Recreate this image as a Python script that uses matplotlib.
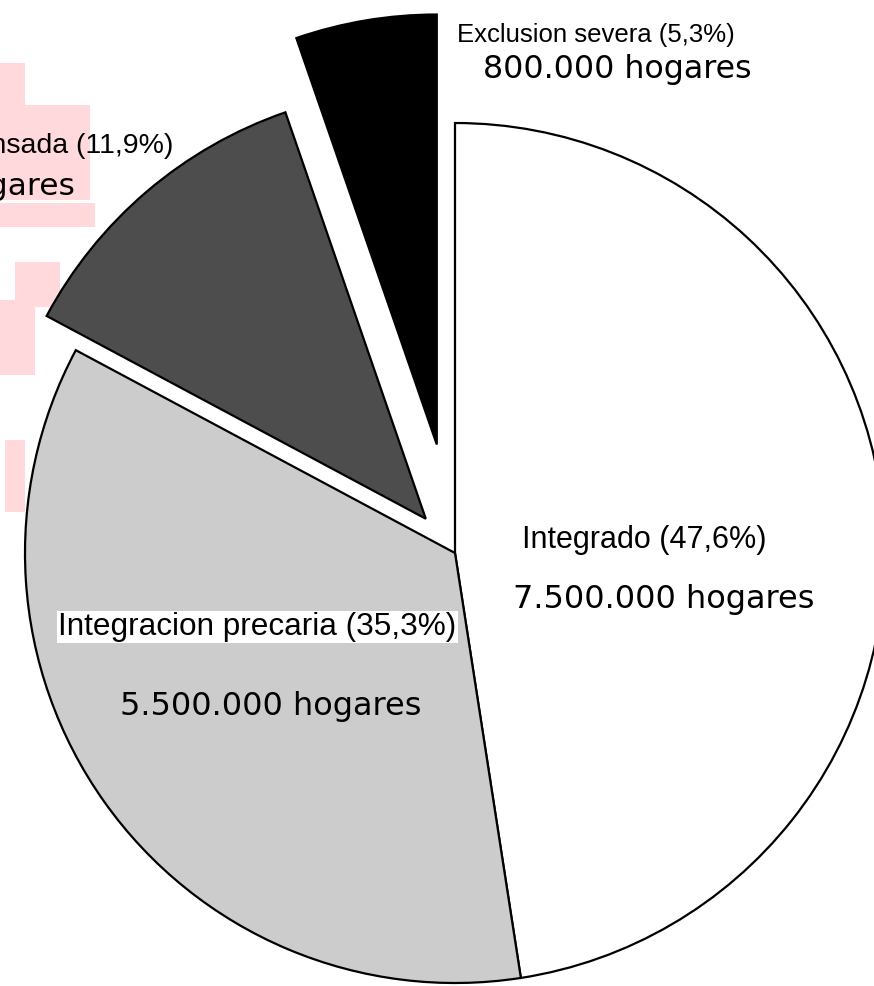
"""Pie chart: hogares por nivel de integracion"""

import matplotlib
matplotlib.use('Agg')
import matplotlib.pyplot as plt
from matplotlib.patches import Rectangle

labels = ['Integrado', 'Integracion precaria', 'Exclusion compensada', 'Exclusion severa']
shares = [47.6, 35.3, 11.9, 5.3]
hogares = ['7.500.000', '5.500.000', '1.800.000', '800.000']
colors = ['#FFFFFF', '#CCCCCC', '#4D4D4D', '#000000']

W, H = 874, 986
fig = plt.figure(figsize=(W / 100.0, H / 100.0), dpi=100)

# faint watermark blocks on the left (pixel coords, from top)
pink = '#FFD9DB'
for (x, y, w, h) in [(0, 63, 25, 45), (0, 105, 90, 95), (0, 203, 95, 24),
                     (15, 262, 45, 45), (0, 300, 35, 75), (5, 440, 20, 72)]:
    fig.add_artist(Rectangle((x / W, 1 - (y + h) / H), w / W, h / H,
                             transform=fig.transFigure, color=pink, lw=0, zorder=0))

ax = fig.add_axes([0, 0, 1, 1])
ax.patch.set_alpha(0)

cx, cy, r = 455, H - 553, 430
explode = [0, 0, 45, 110]     # pie explode is in data units here
ax.pie(shares, colors=colors, explode=explode, startangle=90, counterclock=False,
       center=(cx, cy), radius=r, frame=True,
       wedgeprops=dict(edgecolor='black', linewidth=1.6))
ax.set_xlim(0, W)
ax.set_ylim(0, H)
ax.set_aspect('equal')
ax.axis('off')

def pct(i):
    return labels[i] + ' (' + ('%.1f' % shares[i]).replace('.', ',') + '%)'

arial = 'Liberation Sans'
verd = 'DejaVu Sans'

# Integrado
ax.text(522, H - 548, pct(0), ha='left', va='baseline', family=arial, fontsize=22)
ax.text(513, H - 608, hogares[0] + ' hogares', ha='left', va='baseline', family=verd, fontsize=23)
# Integracion precaria
ax.text(58, H - 635, pct(1), ha='left', va='baseline', family=arial, fontsize=22.7,
        bbox=dict(facecolor='white', edgecolor='none', pad=1.0))
ax.text(120, H - 715, hogares[1] + ' hogares', ha='left', va='baseline', family=verd, fontsize=23)
# Exclusion compensada (partly off the left edge, as in the original)
ax.text(173, H - 153, pct(2), ha='right', va='baseline', family=arial, fontsize=20.5)
ax.text(75, H - 195, hogares[2] + ' hogares', ha='right', va='baseline', family=verd, fontsize=22.5)
# Exclusion severa
ax.text(457, H - 42, pct(3), ha='left', va='baseline', family=arial, fontsize=18.5)
ax.text(483, H - 78, hogares[3] + ' hogares', ha='left', va='baseline', family=verd, fontsize=22.8)

fig.savefig('out.png', dpi=100)
